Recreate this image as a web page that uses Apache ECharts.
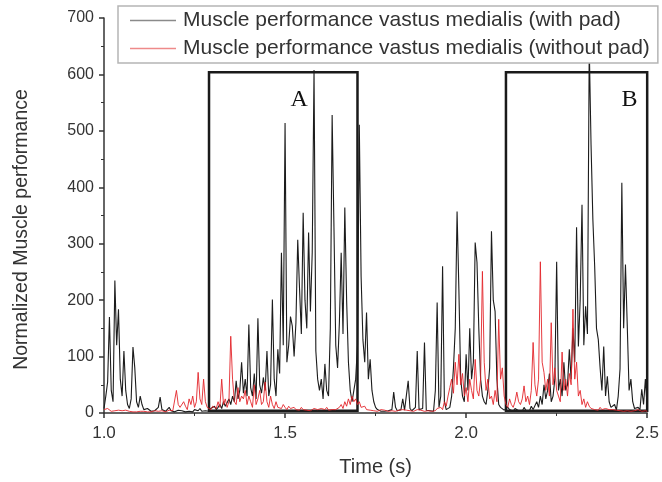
<!DOCTYPE html>
<html>
<head>
<meta charset="utf-8">
<script src="https://cdn.jsdelivr.net/npm/echarts@6/dist/echarts.min.js"></script>
<style>
  html, body { margin: 0; padding: 0; background: #fff; }
  #chart { width: 662px; height: 482px; }
</style>
</head>
<body>
<div id="chart"></div>
<script>
// sampling of the recording, seconds
const t0 = 1.0
const dt = 0.005

// with pad (black), one value per sample
const withPad = [
  8, 30, 55, 170, 40, 20, 235, 120, 184, 60,
  30, 110, 40, 15, 8, 25, 117, 80, 20, 10,
  30, 15, 6, 4, 8, 5, 3, 6, 4, 5,
  10, 28, 6, 4, 3, 5, 10, 4, 3, 2,
  3, 5, 2, 4, 3, 2, 5, 3, 4, 2,
  6, 3, 4, 8, 3, 5, 4, 6, 3, 8,
  5, 12, 6, 10, 15, 8, 20, 12, 10, 25,
  15, 30, 20, 57, 25, 40, 90, 35, 60, 30,
  157, 45, 30, 70, 25, 168, 50, 35, 63, 40,
  110, 30, 50, 201, 60, 30, 113, 70, 284, 120,
  514, 90, 120, 171, 154, 100, 160, 307, 220, 140,
  355, 200, 150, 320, 180, 284, 608, 110, 60, 40,
  60, 25, 87, 40, 30, 150, 528, 330, 120, 80,
  160, 284, 140, 364, 200, 90, 40, 20, 40, 60,
  120, 511, 242, 130, 90, 178, 60, 95, 40, 20,
  10, 6, 4, 3, 2, 3, 5, 4, 3, 6,
  37, 10, 4, 3, 6, 25, 5, 3, 57, 8,
  4, 3, 10, 110, 6, 3, 8, 125, 5, 3,
  4, 6, 3, 40, 196, 10, 30, 260, 20, 6,
  5, 10, 30, 80, 150, 357, 219, 60, 30, 20,
  104, 40, 150, 60, 90, 302, 267, 150, 60, 30,
  20, 15, 40, 80, 322, 200, 180, 60, 15, 10,
  8, 5, 4, 10, 6, 4, 3, 8, 5, 4,
  6, 3, 10, 5, 8, 4, 12, 6, 4, 20,
  10, 30, 15, 50, 25, 40, 70, 20, 30, 60,
  268, 40, 60, 30, 90, 40, 50, 113, 60, 150,
  90, 329, 118, 200, 369, 120, 189, 140, 650, 475,
  343, 260, 150, 130, 80, 40, 118, 30, 65, 20,
  10, 8, 15, 5, 30, 78, 408, 150, 263, 154,
  40, 60, 20, 8, 5, 10, 6, 42, 15, 60,
  10
]

// without pad (red)
const withoutPad = [
  6, 4, 8, 5, 3, 6, 4, 3, 5, 2,
  4, 3, 5, 2, 3, 4, 2, 3, 2, 4,
  3, 2, 3, 4, 2, 3, 2, 3, 4, 2,
  3, 2, 4, 3, 2, 3, 5, 3, 4, 6,
  40, 15, 10, 8, 20, 12, 6, 25, 15, 30,
  10, 20, 72, 25, 15, 60, 20, 10, 8, 6,
  12, 15, 8, 20, 10, 60, 15, 25, 10, 20,
  136, 60, 20, 15, 45, 20, 30, 25, 40, 15,
  30, 20, 10, 50, 15, 25, 40, 15, 20, 55,
  20, 10, 30, 15, 8, 20, 10, 12, 8, 15,
  10, 6, 12, 8, 5, 10, 6, 8, 5, 10,
  6, 8, 5, 7, 4, 6, 8, 5, 6, 4,
  8, 5, 6, 10, 5, 8, 6, 4, 6, 8,
  10, 15, 8, 20, 12, 25, 15, 30, 20, 25,
  15, 20, 10, 8, 12, 6, 8, 5, 6, 4,
  5, 3, 4, 6, 3, 5, 4, 3, 5, 4,
  6, 3, 4, 5, 3, 6, 4, 5, 3, 4,
  5, 3, 4, 6, 3, 5, 4, 3, 6, 4,
  5, 3, 6, 4, 8, 5, 10, 6, 20, 12,
  30, 45, 60, 35, 90, 50, 104, 50, 70, 30,
  45, 20, 60, 40, 25, 95, 40, 30, 60, 251,
  90, 40, 60, 25, 30, 15, 40, 20, 166, 60,
  80, 30, 15, 10, 25, 15, 10, 20, 37, 20,
  15, 25, 48, 20, 30, 15, 40, 125, 50, 30,
  60, 268, 90, 72, 40, 60, 30, 160, 50, 80,
  40, 30, 20, 108, 40, 60, 30, 70, 50, 184,
  60, 90, 30, 40, 15, 25, 10, 20, 12, 8,
  10, 6, 8, 5, 10, 6, 4, 8, 5, 6,
  4, 6, 3, 5, 8, 4, 6, 3, 5, 4,
  6, 3, 5, 4, 3, 6, 4, 3, 5, 4,
  3
]

// highlighted windows [start s, end s], label
const boxes = [
  { name: 'A', x0: 1.29, x1: 1.70 },
  { name: 'B', x0: 2.11, x1: 2.51 },
]
const boxLow = 4
const boxHigh = 604

const names = ['Muscle performance vastus medialis (with pad)', 'Muscle performance vastus medialis (without pad)']

const pairs = arr => arr.map((v, i) => [+(t0 + i * dt).toFixed(3), v])

const myChart = echarts.init(document.getElementById('chart'))
const axisColor = '#333'
myChart.setOption({
  animation: false,
  backgroundColor: '#fff',
  textStyle: { fontFamily: 'Liberation Sans, Arial, sans-serif' },
  grid: { left: 104, right: 14, top: 18, bottom: 68 },
  legend: {
    orient: 'vertical',
    left: 118,
    top: 6,
    padding: [4, 8, 4, 12],
    icon: 'rect',
    itemWidth: 46,
    itemHeight: 1.5,
    itemGap: 7,
    backgroundColor: '#fff',
    borderColor: '#b5b5b5',
    borderWidth: 1.5,
    textStyle: { fontSize: 21, color: '#333', padding: [0, 0, 0, 2] },
    data: [
      { name: names[0], itemStyle: { color: '#8a8a8a' } },
      { name: names[1], itemStyle: { color: '#ee8a8a' } },
    ],
  },
  xAxis: {
    type: 'value',
    min: 1,
    max: 2.5,
    interval: 0.5,
    name: 'Time (s)',
    nameLocation: 'middle',
    nameGap: 44,
    nameTextStyle: { fontSize: 20, color: axisColor },
    axisLine: { lineStyle: { color: axisColor, width: 1.5 } },
    axisTick: { length: 5, lineStyle: { color: axisColor, width: 1.5 } },
    minorTick: { show: true, splitNumber: 2, length: 3, lineStyle: { color: axisColor } },
    splitLine: { show: false },
    axisLabel: { fontSize: 17, color: axisColor, margin: 12, formatter: v => v.toFixed(1) },
  },
  yAxis: {
    type: 'value',
    min: 0,
    max: 700,
    interval: 100,
    name: 'Normalized Muscle performance',
    nameLocation: 'middle',
    nameGap: 72,
    nameTextStyle: { fontSize: 19.5, color: axisColor, padding: [0, 28, 0, 0] },
    axisLine: { show: true, lineStyle: { color: axisColor, width: 1.5 } },
    axisTick: { show: true, length: 5, lineStyle: { color: axisColor, width: 1.5 } },
    minorTick: { show: true, splitNumber: 2, length: 3, lineStyle: { color: axisColor } },
    splitLine: { show: false },
    axisLabel: { fontSize: 16, color: axisColor, margin: 10 },
  },
  series: [
    {
      name: names[0],
      type: 'line',
      data: pairs(withPad),
      symbol: 'none',
      clip: false,
      color: '#1c1c1c',
      lineStyle: { width: 1.1, color: '#1c1c1c' },
      markArea: {
        silent: true,
        itemStyle: { color: 'rgba(0,0,0,0)', borderColor: '#1a1a1a', borderWidth: 2.5 },
        label: {
          show: true,
          fontFamily: 'Liberation Serif, serif',
          fontSize: 24,
          color: '#111',
        },
        data: boxes.map((b, k) => [
          {
            name: b.name,
            coord: [b.x0, boxHigh],
            label: k === 0
              ? { position: 'insideTop', offset: [16, 12] }
              : { position: 'insideTopRight', offset: [-6, 12] },
          },
          { coord: [b.x1, boxLow] },
        ]),
      },
    },
    {
      name: names[1],
      type: 'line',
      data: pairs(withoutPad),
      symbol: 'none',
      color: '#e3262b',
      lineStyle: { width: 1, color: '#e3262b', opacity: 0.9 },
    },
  ],
})
</script>
</body>
</html>
